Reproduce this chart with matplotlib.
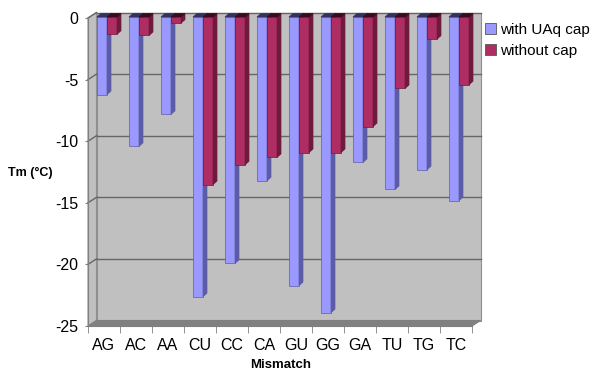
import matplotlib.pyplot as plt
from matplotlib.patches import Polygon, Patch

plt.rcParams['font.family'] = ['Liberation Sans', 'DejaVu Sans']

mismatch = ['AG', 'AC', 'AA', 'CU', 'CC', 'CA', 'GU', 'GG', 'GA', 'TU', 'TG', 'TC']
with_cap = [-6.3, -10.5, -7.9, -22.7, -20.0, -13.3, -21.8, -24.0, -11.8, -14.0, -12.4, -14.9]
without_cap = [-1.4, -1.5, -0.5, -13.6, -12.0, -11.4, -11.0, -11.0, -8.9, -5.8, -1.8, -5.5]
series_names = ['with UAq cap', 'without cap']
yticks = [0, -5, -10, -15, -20, -25]

# colours: front, side, top
blue = ('#9999FF', '#5C5CA6', '#33335C')
red = ('#B02D64', '#6E1A3E', '#3A0A20')

W, H = 596, 386
fig = plt.figure(figsize=(W / 100, H / 100), dpi=100)
L, B, AW, AH = 88, 60, 384, 308
ax = fig.add_axes([L / W, B / H, AW / W, AH / H])
n = len(mismatch)
ax.set_xlim(-0.5, n - 0.5)
ax.set_ylim(-25, 0)
ax.set_facecolor('none')

ux = AW / n     # pixels per category
uy = AH / 25    # pixels per degree


def px(dx, dy):
    return dx / ux, dy / uy


# walls and floor (3d look)
wx, wy = px(8.5, 5.5)
x0, x1 = -0.5, n - 0.5
wall = Polygon([(x0 + wx, -25 + wy), (x1 + wx, -25 + wy), (x1 + wx, wy), (x0 + wx, wy)],
               closed=True, fc='#C0C0C0', ec='#909090', lw=0.8, zorder=0, clip_on=False)
side_wall = Polygon([(x0, -25), (x0, 0), (x0 + wx, wy), (x0 + wx, -25 + wy)],
                    closed=True, fc='#C0C0C0', ec='#909090', lw=0.8, zorder=0, clip_on=False)
floor = Polygon([(x0, -25), (x1, -25), (x1 + wx, -25 + wy), (x0 + wx, -25 + wy)],
                closed=True, fc='#808080', ec='#808080', lw=0.8, zorder=0.5, clip_on=False)
for p in (wall, side_wall, floor):
    ax.add_patch(p)
for v in yticks[:-1]:
    ax.plot([x0 + wx, x1 + wx], [v + wy, v + wy], color='#666666', lw=1, zorder=0.6, clip_on=False)
    ax.plot([x0, x0 + wx], [v, v + wy], color='#666666', lw=1, zorder=0.6, clip_on=False)

# bars
bw = 10 / ux
sx, sy = px(3, 1)
bx, by = px(4, 3.5)


def draw_bar(left, v, cols):
    f, s, t = cols
    ax.bar(left, v, width=bw, bottom=sy, align='edge', color=f, edgecolor=s,
           linewidth=0.5, zorder=3, clip_on=False)
    r = left + bw
    ax.add_patch(Polygon([(r, sy), (r, sy + v), (r + bx, sy + v + by), (r + bx, sy + by)],
                         closed=True, fc=s, ec=s, lw=0.5, zorder=3, clip_on=False))
    ax.add_patch(Polygon([(left, sy), (r, sy), (r + bx, sy + by), (left + bx, sy + by)],
                         closed=True, fc=t, ec=t, lw=0.5, zorder=3, clip_on=False))


for i in range(n):
    draw_bar(i - bw + sx, with_cap[i], blue)
    draw_bar(i + sx, without_cap[i], red)

# axes
for s in ['top', 'right']:
    ax.spines[s].set_visible(False)
ax.spines['left'].set_color('#808080')
ax.spines['bottom'].set_color('#808080')
ax.spines['left'].set_zorder(1)
ax.set_yticks(yticks)
ax.set_yticklabels([str(v) for v in yticks])
ax.tick_params(axis='y', length=2, color='#808080', pad=5, labelsize=11.5)
ax.set_xticks(range(n))
ax.set_xticklabels(mismatch)
ax.set_xticks([i - 0.5 for i in range(n + 1)], minor=True)
ax.tick_params(axis='x', which='major', length=0, pad=9, labelsize=11.5)
ax.tick_params(axis='x', which='minor', length=5, color='#808080')

fig.text(30 / W, 1 - 173 / H, 'Tm (°C)', fontsize=9, fontweight='bold', ha='center', va='center')
fig.text(281 / W, 1 - 365 / H, 'Mismatch', fontsize=9.5, fontweight='bold', ha='center', va='center')

handles = [Patch(facecolor=blue[0], edgecolor='#555555', lw=0.6),
           Patch(facecolor=red[0], edgecolor='#555555', lw=0.6)]
fig.legend(handles, series_names, loc='upper left', bbox_to_anchor=(485 / W, 1 - 23 / H),
           frameon=False, fontsize=11, handlelength=0.7, handleheight=0.7,
           handletextpad=0.3, labelspacing=0.45, borderaxespad=0, borderpad=0)

fig.savefig('out.png', dpi=100)
